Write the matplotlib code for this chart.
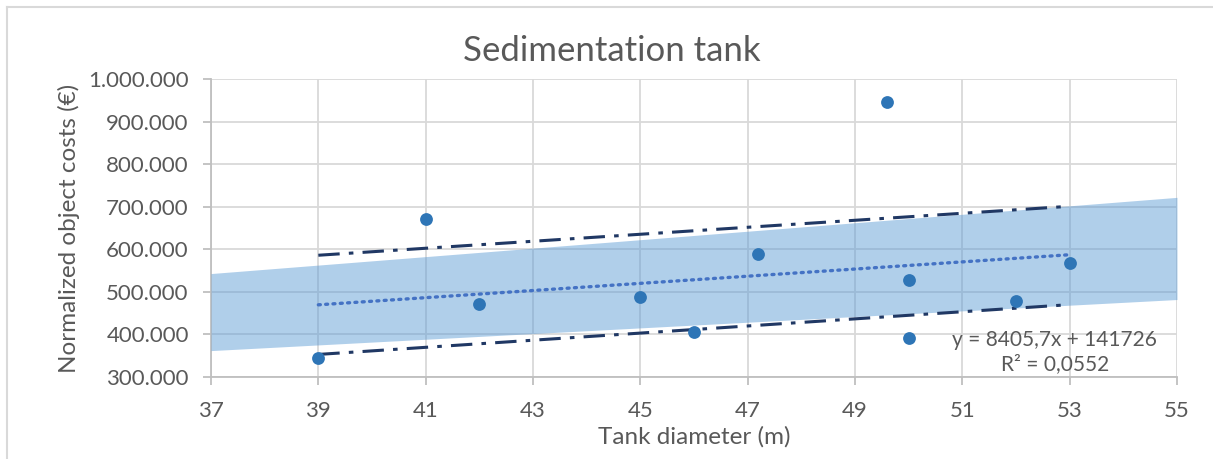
import matplotlib
matplotlib.use("Agg")
import matplotlib.pyplot as plt
from matplotlib.lines import Line2D
from matplotlib.ticker import FuncFormatter

# data
diameter = [39, 41, 42, 45, 46, 47.2, 49.6, 50, 50, 52, 53]
costs = [344000, 670000, 471000, 487000, 406000, 589000, 947000, 527000, 391000, 478000, 568000]

# trendline y = 8405,7x + 141726
slope = 8405.7
intercept = 141726
trend_x = [39, 53]

# prediction lines (dash-dot)
pi_x = [39, 53]
pi_lo = [353000, 470000]
pi_hi = [586000, 701000]

# shaded band
band_x = [37, 55]
band_lo = [362000, 482000]
band_hi = [543000, 722000]

x_ticks = list(range(37, 56, 2))
y_ticks = list(range(300000, 1000001, 100000))

plt.rcParams['font.family'] = ['Lato', 'DejaVu Sans']
txt = '#595959'

fig = plt.figure(figsize=(12.13, 4.59), dpi=100)
ax = fig.add_axes([211 / 1213, 1 - 377 / 459, 966 / 1213, 298 / 459])

ax.fill_between(band_x, band_lo, band_hi, color='#5B9BD5', alpha=0.48, lw=0, zorder=3)
ax.plot(pi_x, pi_hi, color='#203864', lw=2.2, dashes=(7, 3, 1.5, 3), zorder=4)
ax.plot(pi_x, pi_lo, color='#203864', lw=2.2, dashes=(7, 3, 1.5, 3), zorder=4)
ty = [slope * v + intercept for v in trend_x]
ax.plot(trend_x, ty, color='#4472C4', lw=2.4, linestyle=(0, (0.6, 1.6)),
        dash_capstyle='round', zorder=4)
ax.scatter(diameter, costs, s=85, color='#2E75B6', zorder=5, linewidths=0)

ax.set_xlim(37, 55)
ax.set_ylim(300000, 1000000)
ax.set_xticks(x_ticks)
ax.set_yticks(y_ticks)
ax.yaxis.set_major_formatter(FuncFormatter(lambda v, p: f"{int(v):,}".replace(',', '.')))

ax.grid(True, color='#D9D9D9', lw=1.3, zorder=0)
ax.set_axisbelow(True)
for s in ['top', 'right']:
    ax.spines[s].set_visible(False)
for s in ['left', 'bottom']:
    ax.spines[s].set_color('#BFBFBF')
    ax.spines[s].set_linewidth(1.3)
ax.tick_params(axis='both', colors='#BFBFBF', labelcolor=txt, labelsize=16, length=6, width=1.3)
ax.tick_params(axis='x', pad=11)
ax.tick_params(axis='y', pad=10)

ax.set_xlabel('Tank diameter (m)', fontsize=17.5, color=txt, labelpad=4)
ax.set_ylabel('Normalized object costs (€)', fontsize=17.5, color=txt, labelpad=6)
fig.text(0.504, 1 - 51 / 459, 'Sedimentation tank', fontsize=25, color=txt,
         ha='center', va='center')

ax.text(54.63, 359000, 'y = 8405,7x + 141726\nR² = 0,0552',
        fontsize=15, color=txt, ha='right', va='center', multialignment='center',
        linespacing=1.25, zorder=6)

# chart area border (left and top visible)
fig.add_artist(Line2D([7 / 1213, 7 / 1213], [0, 1 - 7 / 459], color='#D9D9D9', lw=1.5))
fig.add_artist(Line2D([7 / 1213, 1], [1 - 7 / 459, 1 - 7 / 459], color='#D9D9D9', lw=1.5))

fig.savefig('out.png', dpi=100)
